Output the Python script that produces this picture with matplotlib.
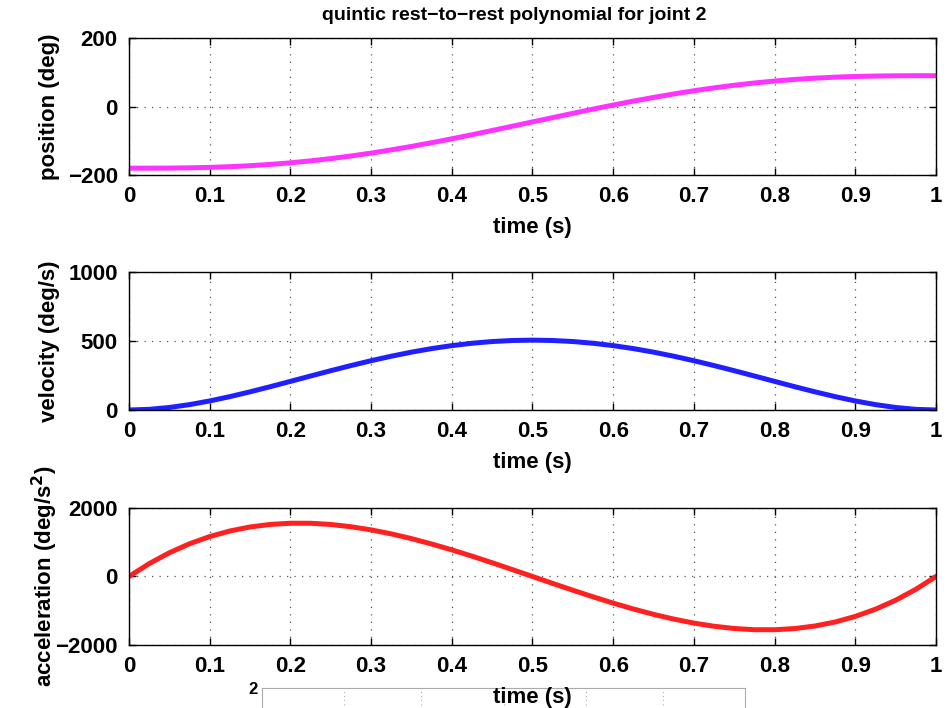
import numpy as np
import matplotlib.pyplot as plt

# time samples (s)
t = [0.0, 0.025, 0.05, 0.075, 0.1, 0.125, 0.15, 0.175, 0.2, 0.225, 0.25,
     0.275, 0.3, 0.325, 0.35, 0.375, 0.4, 0.425, 0.45, 0.475, 0.5,
     0.525, 0.55, 0.575, 0.6, 0.625, 0.65, 0.675, 0.7, 0.725, 0.75,
     0.775, 0.8, 0.825, 0.85, 0.875, 0.9, 0.925, 0.95, 0.975, 1.0]

# position (deg)
pos = [-180.0, -180.0, -179.7, -179.0, -177.7, -175.7, -172.8, -169.1, -164.4, -158.7, -152.1,
       -144.5, -136.0, -126.6, -116.5, -105.7, -94.3, -82.4, -70.1, -57.6, -45.0,
       -32.4, -19.9, -7.6, 4.3, 15.7, 26.5, 36.6, 46.0, 54.5, 62.1,
       68.7, 74.4, 79.1, 82.8, 85.7, 87.7, 89.0, 89.7, 90.0, 90.0]

# velocity (deg/s)
vel = [0.0, 4.8, 18.3, 39.0, 65.6, 96.9, 131.7, 168.8, 207.4, 246.3, 284.8,
       322.0, 357.2, 389.8, 419.2, 445.0, 466.6, 483.7, 496.2, 503.7, 506.3,
       503.7, 496.2, 483.7, 466.6, 445.0, 419.2, 389.8, 357.2, 322.0, 284.8,
       246.3, 207.4, 168.8, 131.7, 96.9, 65.6, 39.0, 18.3, 4.8, 0.0]

# acceleration (deg/s^2)
acc = [0.0, 375, 693, 955, 1166, 1329, 1446, 1520, 1555, 1554, 1519,
       1453, 1361, 1244, 1106, 949, 778, 594, 401, 202, 0,
       -202, -401, -594, -778, -949, -1106, -1244, -1361, -1453, -1519,
       -1554, -1555, -1520, -1446, -1329, -1166, -955, -693, -375, 0.0]

xticks = [0, 0.1, 0.2, 0.3, 0.4, 0.5, 0.6, 0.7, 0.8, 0.9, 1]
xticklabels = ['0', '0.1', '0.2', '0.3', '0.4', '0.5', '0.6', '0.7', '0.8', '0.9', '1']

plt.rcParams['font.family'] = ['Liberation Sans', 'DejaVu Sans']
plt.rcParams['font.weight'] = 'bold'
plt.rcParams['axes.labelweight'] = 'bold'

fig = plt.figure(figsize=(9.47, 7.08), dpi=100)

def style(ax, yticks, ylims):
    ax.set_xlim(0, 1)
    ax.set_ylim(*ylims)
    ax.set_xticks(xticks)
    ax.set_xticklabels(xticklabels)
    ax.set_yticks(yticks)
    ax.tick_params(direction='in', top=True, right=True, length=5, width=1,
                   labelsize=16, pad=8)
    ax.grid(True, linestyle=(0, (1, 5)), color='#555555', linewidth=0.9)
    for s in ax.spines.values():
        s.set_linewidth(1.0)
    ax.set_xlabel('time (s)', fontsize=16, labelpad=7)

# stray partial axes at the bottom (overlapping figure artefact)
axs = fig.add_axes([0.2767, -0.08, 0.51, 0.108], zorder=0)
axs.set_xlim(0, 1)
axs.set_ylim(0, 2)
axs.set_xticks([0.17, 0.33, 0.5, 0.67, 0.83])
axs.set_xticklabels([])
axs.set_yticks([2])
axs.set_yticklabels(['2'])
axs.tick_params(length=0, labelsize=12, pad=3)
axs.grid(True, linestyle=(0, (1, 4)), color='#888888', linewidth=0.6)
for s in axs.spines.values():
    s.set_color('#aaaaaa')

ax1 = fig.add_axes([0.1362, 0.7528, 0.8522, 0.1935], zorder=2)
ax1.plot(t, pos, color='#ff33ff', linewidth=3.6)
style(ax1, [-200, 0, 200], (-200, 200))
ax1.set_yticklabels(['\u2212200', '0', '200'])
ax1.set_ylabel('position (deg)', fontsize=16)
ax1.set_title('quintic rest\u2212to\u2212rest polynomial for joint 2', fontsize=14,
              fontweight='bold', pad=13, x=0.477)

ax2 = fig.add_axes([0.1362, 0.4209, 0.8522, 0.1949], zorder=2)
ax2.plot(t, vel, color='#1f1fff', linewidth=3.6)
style(ax2, [0, 500, 1000], (0, 1000))
ax2.set_ylabel('velocity (deg/s)', fontsize=16)

ax3 = fig.add_axes([0.1362, 0.0890, 0.8522, 0.1935], zorder=2)
ax3.plot(t, acc, color='#ff2020', linewidth=3.6)
style(ax3, [-2000, 0, 2000], (-2000, 2000))
ax3.set_yticklabels(['\u22122000', '0', '2000'])
ax3.set_ylabel('acceleration (deg/s$^\\mathbf{2}$)', fontsize=16)

for ax in (ax1, ax2, ax3):
    ax.yaxis.set_label_coords(-0.086, 0.5)

fig.savefig('out.png', dpi=100)
